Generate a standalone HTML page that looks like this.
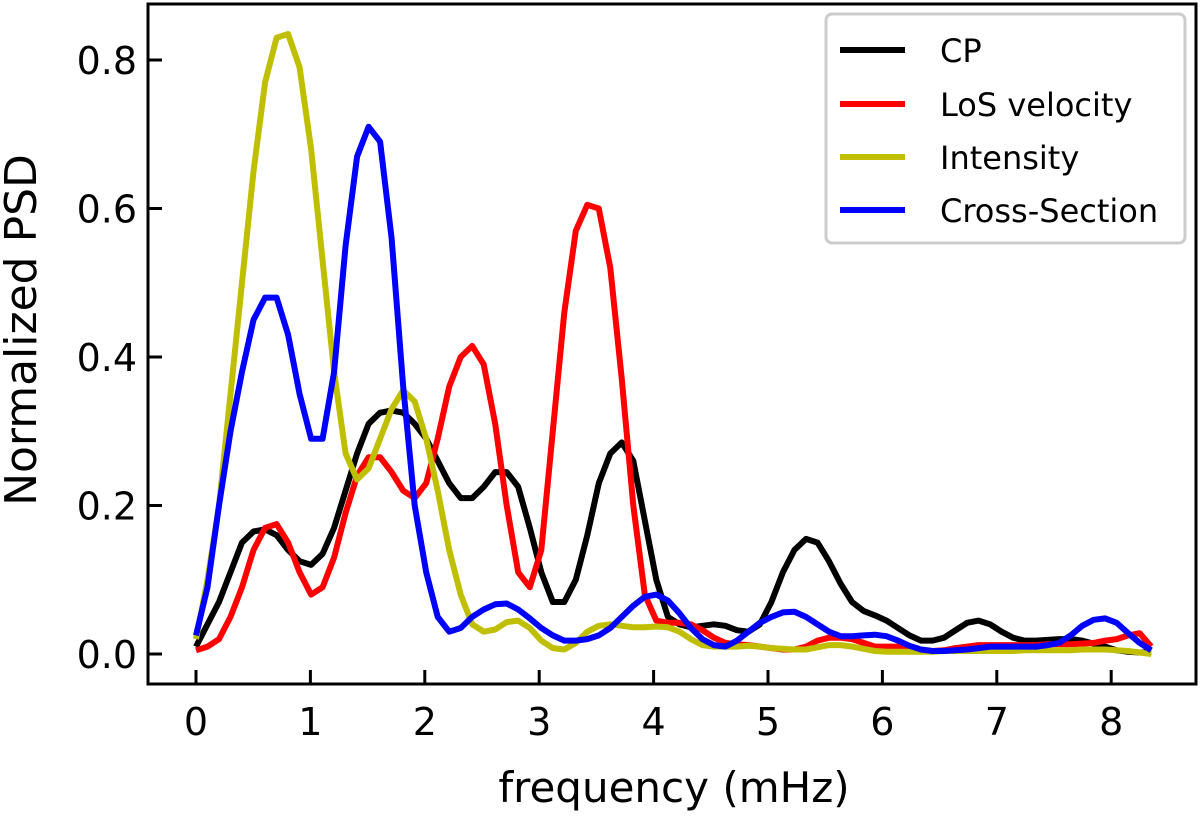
<!DOCTYPE html>
<html><head><meta charset="utf-8"><style>
html,body{margin:0;padding:0;background:#fff}
svg text{font-family:"DejaVu Sans","Liberation Sans",sans-serif;fill:#000}
</style></head><body>
<svg width="1200" height="815" viewBox="0 0 1200 815" xmlns="http://www.w3.org/2000/svg">
<g id="series"></g>
<rect x="148" y="4" width="1048" height="680" fill="none" stroke="#000" stroke-width="3"/>
<g id="axes"></g>
<text x="674" y="802" font-size="42" text-anchor="middle">frequency (mHz)</text>
<text transform="translate(36,330) rotate(-90)" font-size="44" text-anchor="middle">Normalized PSD</text>
<g>
<rect x="826" y="14" width="359" height="229" rx="6" fill="#fff" stroke="#ccc" stroke-width="3"/>
<g id="legend"></g>
</g>
</svg>
<script>
const freqStep = 0.1006;
const cpValues = [0.01,0.04,0.07,0.11,0.15,0.165,0.168,0.16,0.14,0.125,0.12,0.135,0.17,0.22,0.27,0.31,0.325,0.328,0.325,0.31,0.29,0.26,0.23,0.21,0.21,0.225,0.245,0.245,0.225,0.17,0.11,0.07,0.07,0.1,0.16,0.23,0.27,0.285,0.26,0.18,0.1,0.05,0.04,0.036,0.038,0.04,0.038,0.032,0.03,0.04,0.07,0.11,0.14,0.155,0.15,0.125,0.095,0.07,0.058,0.052,0.045,0.035,0.025,0.018,0.018,0.022,0.032,0.042,0.045,0.04,0.03,0.022,0.018,0.018,0.019,0.02,0.02,0.018,0.014,0.01,0.005,0.003,0.002,0.002];
const losValues = [0.005,0.01,0.02,0.05,0.09,0.14,0.17,0.175,0.15,0.11,0.08,0.09,0.13,0.19,0.24,0.265,0.265,0.245,0.22,0.21,0.23,0.29,0.36,0.4,0.415,0.39,0.31,0.2,0.11,0.09,0.14,0.3,0.46,0.57,0.605,0.6,0.52,0.37,0.2,0.08,0.045,0.042,0.042,0.04,0.032,0.022,0.015,0.013,0.012,0.01,0.008,0.006,0.006,0.01,0.018,0.022,0.022,0.02,0.015,0.01,0.01,0.01,0.008,0.005,0.004,0.005,0.008,0.01,0.012,0.012,0.012,0.012,0.012,0.012,0.013,0.013,0.013,0.014,0.015,0.018,0.02,0.025,0.028,0.01];
const intensityValues = [0.02,0.1,0.2,0.35,0.5,0.65,0.77,0.83,0.835,0.79,0.68,0.53,0.38,0.27,0.235,0.25,0.29,0.33,0.355,0.34,0.29,0.22,0.14,0.08,0.04,0.03,0.033,0.043,0.045,0.035,0.018,0.008,0.006,0.015,0.03,0.038,0.04,0.038,0.036,0.036,0.037,0.036,0.03,0.02,0.012,0.01,0.01,0.01,0.011,0.01,0.008,0.007,0.006,0.006,0.009,0.012,0.012,0.01,0.007,0.004,0.003,0.003,0.003,0.003,0.003,0.004,0.004,0.004,0.004,0.004,0.004,0.004,0.005,0.005,0.005,0.005,0.005,0.006,0.006,0.006,0.005,0.004,0.002,0.0];
const crossValues = [0.025,0.09,0.2,0.3,0.38,0.45,0.48,0.48,0.43,0.35,0.29,0.29,0.38,0.55,0.67,0.71,0.69,0.56,0.36,0.2,0.11,0.05,0.03,0.035,0.05,0.06,0.067,0.068,0.06,0.048,0.035,0.025,0.018,0.018,0.02,0.025,0.035,0.05,0.065,0.077,0.08,0.072,0.055,0.035,0.02,0.012,0.01,0.018,0.03,0.042,0.05,0.056,0.057,0.05,0.04,0.03,0.024,0.024,0.025,0.026,0.024,0.018,0.011,0.006,0.004,0.004,0.005,0.006,0.008,0.01,0.01,0.01,0.01,0.01,0.012,0.015,0.025,0.038,0.046,0.048,0.042,0.028,0.015,0.005];
const seriesNames = ["CP","LoS velocity","Intensity","Cross-Section"];
const seriesColors = ["#000000","#ff0000","#bfbf00","#0000ff"];
const xTicks = [0,1,2,3,4,5,6,7,8];
const yTicks = [0,0.2,0.4,0.6,0.8];
const yTickLabels = ["0.0","0.2","0.4","0.6","0.8"];

const NS = "http://www.w3.org/2000/svg";
const xs = v => 196 + v * 114.4;
const ys = v => 654 - v * 742.5;
const seriesG = document.getElementById('series');
const allSeries = [cpValues, losValues, intensityValues, crossValues];
const seriesKeys = ["cp","los-velocity","intensity","cross-section"];
allSeries.forEach((vals, i) => {
  const pts = vals.map((v, j) => xs(j * freqStep).toFixed(1) + ',' + ys(v).toFixed(1)).join(' ');
  const pl = document.createElementNS(NS, 'polyline');
  pl.setAttribute('points', pts);
  pl.setAttribute('fill', 'none');
  pl.setAttribute('stroke', seriesColors[i]);
  pl.setAttribute('stroke-width', '6');
  pl.setAttribute('stroke-linejoin', 'round');
  
  
  seriesG.appendChild(pl);
});
const axes = document.getElementById('axes');
xTicks.forEach(t => {
  const l = document.createElementNS(NS, 'line');
  l.setAttribute('x1', xs(t)); l.setAttribute('x2', xs(t));
  l.setAttribute('y1', 684); l.setAttribute('y2', 670);
  l.setAttribute('stroke', '#000'); l.setAttribute('stroke-width', '3');
  
  
  axes.appendChild(l);
  const tx = document.createElementNS(NS, 'text');
  tx.setAttribute('x', xs(t)); tx.setAttribute('y', 735);
  tx.setAttribute('font-size', '38'); tx.setAttribute('text-anchor', 'middle');
  tx.textContent = String(t);
  
  
  axes.appendChild(tx);
});
yTicks.forEach((t, i) => {
  const l = document.createElementNS(NS, 'line');
  l.setAttribute('x1', 148); l.setAttribute('x2', 162);
  l.setAttribute('y1', ys(t)); l.setAttribute('y2', ys(t));
  l.setAttribute('stroke', '#000'); l.setAttribute('stroke-width', '3');
  
  
  axes.appendChild(l);
  const tx = document.createElementNS(NS, 'text');
  tx.setAttribute('x', 137); tx.setAttribute('y', ys(t) + 14);
  tx.setAttribute('font-size', '38'); tx.setAttribute('text-anchor', 'end');
  tx.textContent = yTickLabels[i];
  
  
  axes.appendChild(tx);
});
const lg = document.getElementById('legend');
const legY = [50, 104, 157, 210];
seriesNames.forEach((n, i) => {
  const g = document.createElementNS(NS, 'g');
  
  
  const l = document.createElementNS(NS, 'line');
  l.setAttribute('x1', 840); l.setAttribute('x2', 905);
  l.setAttribute('y1', legY[i]); l.setAttribute('y2', legY[i]);
  l.setAttribute('stroke', seriesColors[i]); l.setAttribute('stroke-width', '6');
  
  
  g.appendChild(l);
  const tx = document.createElementNS(NS, 'text');
  tx.setAttribute('x', 940); tx.setAttribute('y', legY[i] + 12);
  tx.setAttribute('font-size', '32');
  tx.textContent = n;
  
  
  g.appendChild(tx);
  lg.appendChild(g);
});
</script>
</body></html>
